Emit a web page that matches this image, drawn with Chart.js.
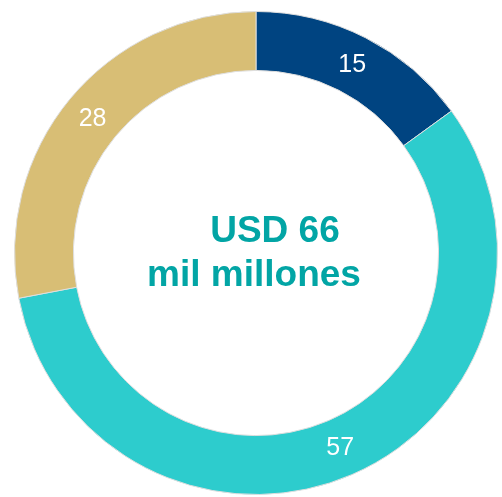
<!DOCTYPE html>
<html>
<head>
<meta charset="utf-8">
<script src="https://cdn.jsdelivr.net/npm/chart.js@4/dist/chart.umd.min.js"></script>
<style>
  html, body { margin:0; padding:0; background:#fff; }
  #wrap { width:502px; height:497px; position:relative; }
</style>
</head>
<body>
<div id="wrap"><canvas id="donut"></canvas></div>
<script>
// ---- data ----
const segLabels = ['A', 'B', 'C'];
const segValues = [15, 57, 28];
const segColors = ['#004481', '#2dcccd', '#d8be75'];
const centerLines = ['USD 66', 'mil millones'];

// white numbers sitting on each arc
const arcLabels = {
  id: 'arcLabels',
  afterDatasetsDraw(chart){
    const ctx = chart.ctx;
    const meta = chart.getDatasetMeta(0);
    ctx.save();
    ctx.fillStyle = '#ffffff';
    ctx.font = '25px "Liberation Sans", Arial, sans-serif';
    ctx.textAlign = 'center';
    ctx.textBaseline = 'middle';
    meta.data.forEach((arc, i)=>{
      const p = arc.tooltipPosition();
      ctx.fillText(String(segValues[i]), p.x, p.y + 1);
    });
    ctx.restore();
  }
};

// total in the hole
const centerText = {
  id: 'centerText',
  afterDraw(chart){
    const ctx = chart.ctx;
    const arc = chart.getDatasetMeta(0).data[0];
    const cx = arc.x, cy = arc.y;
    ctx.save();
    ctx.fillStyle = '#02a5a5';
    ctx.font = 'bold 37px "Liberation Sans", Arial, sans-serif';
    ctx.textAlign = 'center';
    ctx.textBaseline = 'alphabetic';
    ctx.fillText(centerLines[0], cx + 19, cy - 11);
    ctx.fillText(centerLines[1], cx - 2, cy + 33);
    ctx.restore();
  }
};

new Chart(document.getElementById('donut'), {
  type: 'doughnut',
  data: {
    labels: segLabels,
    datasets: [{
      data: segValues,
      backgroundColor: segColors,
      borderColor: '#dedede',
      borderWidth: 1
    }]
  },
  options: {
    responsive: true,
    maintainAspectRatio: false,
    animation: false,
    cutout: '75.6%',
    layout: { padding: { top: 11, bottom: 2, left: 14, right: 4 } },
    plugins: {
      legend: { display: false },
      tooltip: { enabled: false }
    }
  },
  plugins: [arcLabels, centerText]
});
</script>
</body>
</html>
